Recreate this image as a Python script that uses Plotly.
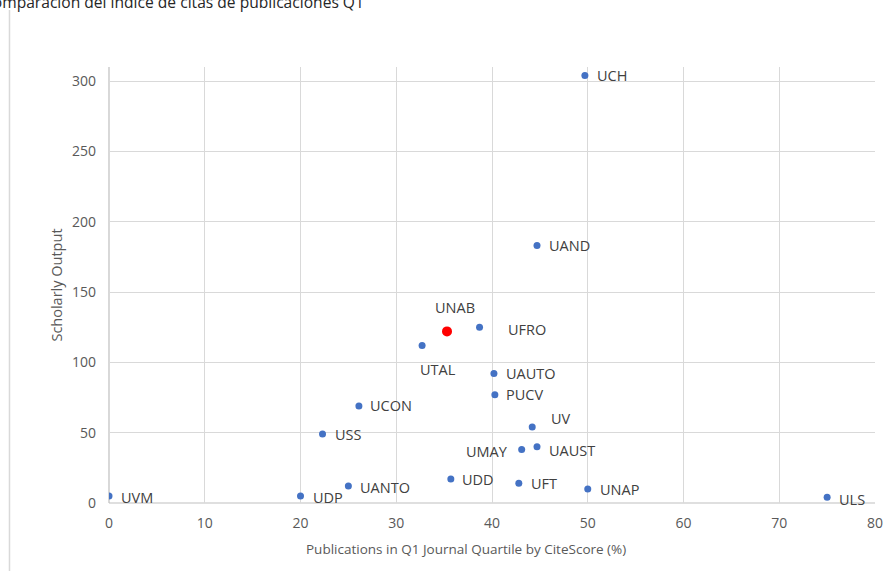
import plotly.graph_objects as go

# Data
labels = ["UVM", "UDP", "UANTO", "UDD", "UFT", "UNAP", "ULS", "UCH", "UAND", "UNAB",
          "UFRO", "UTAL", "UAUTO", "PUCV", "UV", "UMAY", "UAUST", "UCON", "USS"]
q1_pct = [0, 20, 25, 35.7, 42.8, 50, 75, 49.7, 44.7, 35.3,
          38.7, 32.7, 40.2, 40.3, 44.2, 43.1, 44.7, 26.1, 22.3]
output = [5, 5, 12, 17, 14, 10, 4, 304, 183, 122,
          125, 112, 92, 77, 54, 38, 40, 69, 49]
highlight = "UNAB"
x_title = "Publications in Q1 Journal Quartile by CiteScore (%)"
y_title = "Scholarly Output"
chart_title = "Comparación del índice de citas de publicaciones Q1"

# Label placement (styling): (xanchor, xshift px, yshift px)
label_pos = {
    "UVM": ("left", 10, -2), "UDP": ("left", 10, -2), "UANTO": ("left", 10, -1),
    "UDD": ("left", 9, 0), "UFT": ("left", 10, 0), "UNAP": ("left", 10, -1),
    "ULS": ("left", 10, -2), "UCH": ("left", 10, 0), "UAND": ("left", 10, 0),
    "UNAB": ("center", 8, 24), "UFRO": ("left", 26, -2), "UTAL": ("center", 16, -24),
    "UAUTO": ("left", 10, 0), "PUCV": ("left", 9, 0), "UV": ("left", 17, 9),
    "UMAY": ("right", -12, -2), "UAUST": ("left", 10, -4), "UCON": ("left", 9, 0),
    "USS": ("left", 10, 0),
}

font_family = "Open Sans"
gray = "#595959"

colors = ["#FF0000" if l == highlight else "#4472C4" for l in labels]
sizes = [10 if l == highlight else 7 for l in labels]

fig = go.Figure()
fig.add_trace(go.Scatter(
    x=q1_pct, y=output, mode="markers",
    marker=dict(color=colors, size=sizes, opacity=1, line=dict(width=0)),
    hovertext=labels, showlegend=False,
))

annotations = []
for l, xv, yv in zip(labels, q1_pct, output):
    xa, xs, ys = label_pos[l]
    annotations.append(dict(
        x=xv, y=yv, xref="x", yref="y", text=l, showarrow=False,
        xanchor=xa, yanchor="middle", xshift=xs, yshift=ys,
        font=dict(family=font_family, size=14.5, color="#404040"),
    ))

# Title (partially cut off at left/top, as in the reference)
annotations.append(dict(
    x=0.3355, y=1.120, xref="paper", yref="paper", xanchor="right", yanchor="bottom",
    text=chart_title, showarrow=False,
    font=dict(family=font_family, size=15.6, color="#262626"),
))
# X axis title (slightly left of centre, as in the reference)
annotations.append(dict(
    x=0.466, y=-0.1055, xref="paper", yref="paper", xanchor="center", yanchor="middle",
    text=x_title, showarrow=False,
    font=dict(family=font_family, size=13.5, color=gray),
))

fig.update_layout(
    template="none",
    width=890, height=571,
    margin=dict(l=109, r=15, t=67, b=68),
    paper_bgcolor="white", plot_bgcolor="white",
    font=dict(family=font_family, color=gray),
    annotations=annotations,
    shapes=[dict(type="line", xref="paper", yref="paper",
                 x0=-0.1299, x1=-0.1299, y0=1.1307, y1=-0.2,
                 line=dict(color="#d9d9d9", width=1.5))],
)
fig.update_xaxes(
    range=[0, 80], tickvals=list(range(0, 81, 10)), automargin=False,
    showgrid=True, gridcolor="#d9d9d9", gridwidth=1,
    zeroline=False, showline=False,
    tickfont=dict(size=14, color=gray), ticks="", ticklabelstandoff=10,
)
fig.update_yaxes(
    range=[0, 310], tickvals=list(range(0, 301, 50)), automargin=False,
    showgrid=True, gridcolor="#d9d9d9", gridwidth=1,
    zeroline=False, showline=False,
    tickfont=dict(size=14, color=gray), ticks="", ticklabelstandoff=12,
    title=dict(text=y_title, font=dict(size=14.5, color=gray), standoff=5),
)
# axis lines at x=0 and y=0
fig.add_shape(type="line", xref="paper", yref="paper", x0=0, x1=1, y0=0, y1=0,
              line=dict(color="#bfbfbf", width=1.2), layer="below")
fig.add_shape(type="line", xref="paper", yref="paper", x0=0, x1=0, y0=0, y1=1,
              line=dict(color="#bfbfbf", width=1.2), layer="below")

fig.write_html("out.html", config={"displayModeBar": False},
               post_script="document.body.style.margin='0';")
